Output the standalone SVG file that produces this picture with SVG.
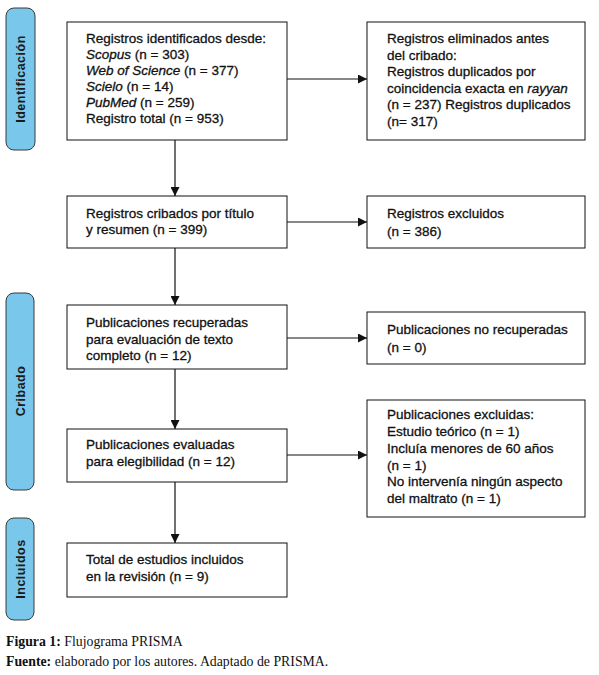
<svg xmlns="http://www.w3.org/2000/svg" width="599" height="675" viewBox="0 0 599 675">
<style>
.bg{fill:#fff}
.bar{fill:#79c7eb;stroke:#3a3a3a;stroke-width:1}
.bartxt{font-family:"Liberation Sans",Arial,sans-serif;font-weight:bold;font-size:12.5px;letter-spacing:0.5px;fill:#1a1a1a;text-anchor:middle}
.box{fill:#fff;stroke:#111;stroke-width:1}
.t{font-family:"Liberation Sans",Arial,sans-serif;font-size:13.5px;fill:#111;stroke:#111;stroke-width:0.3}
.conn{stroke:#111;stroke-width:1.2;fill:none}
.cap{font-family:"Liberation Serif","Times New Roman",serif;font-size:13.8px;fill:#111}
</style>
<defs>
<marker id="ah" viewBox="0 0 10 10" refX="10" refY="5" markerWidth="9" markerHeight="9" markerUnits="userSpaceOnUse" orient="auto">
<path d="M0,0 L10,5 L0,10 z" fill="#111"/>
</marker>
</defs>
<rect class="bg" x="0" y="0" width="599" height="675"/>

<g id="phase-identificacion">
<rect class="bar" x="6" y="8" width="29" height="142" rx="8"/>
<text class="bartxt" transform="translate(25,79) rotate(-90)">Identificación</text>
</g>
<g id="phase-cribado">
<rect class="bar" x="6" y="293" width="28" height="197" rx="8"/>
<text class="bartxt" transform="translate(25,391) rotate(-90)">Cribado</text>
</g>
<g id="phase-incluidos">
<rect class="bar" x="6" y="518" width="28" height="102" rx="8"/>
<text class="bartxt" transform="translate(25,569) rotate(-90)">Incluidos</text>
</g>

<g id="connectors">
<line class="conn" x1="287" y1="79" x2="367" y2="79" marker-end="url(#ah)"/>
<line class="conn" x1="175" y1="140" x2="175" y2="196" marker-end="url(#ah)"/>
<line class="conn" x1="287" y1="222" x2="367" y2="222" marker-end="url(#ah)"/>
<line class="conn" x1="175" y1="248" x2="175" y2="305" marker-end="url(#ah)"/>
<line class="conn" x1="287" y1="338" x2="367" y2="338" marker-end="url(#ah)"/>
<line class="conn" x1="175" y1="369" x2="175" y2="429" marker-end="url(#ah)"/>
<line class="conn" x1="287" y1="455" x2="367" y2="455" marker-end="url(#ah)"/>
<line class="conn" x1="175" y1="482" x2="175" y2="543" marker-end="url(#ah)"/>
</g>

<g id="n1">
<rect class="box" x="67" y="22" width="220" height="118"/>
<text class="t" x="86" y="43">Registros identificados desde:</text>
<text class="t" x="86" y="59"><tspan font-style="italic">Scopus</tspan> (n = 303)</text>
<text class="t" x="86" y="75"><tspan font-style="italic">Web of Science</tspan> (n = 377)</text>
<text class="t" x="86" y="91"><tspan font-style="italic">Scielo</tspan> (n = 14)</text>
<text class="t" x="86" y="107"><tspan font-style="italic">PubMed</tspan> (n = 259)</text>
<text class="t" x="86" y="123">Registro total (n = 953)</text>
</g>
<g id="n2">
<rect class="box" x="367" y="22" width="218" height="118"/>
<text class="t" x="387" y="43">Registros eliminados antes</text>
<text class="t" x="387" y="59.5">del cribado:</text>
<text class="t" x="387" y="76">Registros duplicados por</text>
<text class="t" x="387" y="92.5">coincidencia exacta en <tspan font-style="italic">rayyan</tspan></text>
<text class="t" x="387" y="109">(n = 237) Registros duplicados</text>
<text class="t" x="387" y="125.5">(n= 317)</text>
</g>
<g id="n3">
<rect class="box" x="67" y="196" width="220" height="52"/>
<text class="t" x="86" y="218">Registros cribados por título</text>
<text class="t" x="86" y="234">y resumen (n = 399)</text>
</g>
<g id="n4">
<rect class="box" x="367" y="196" width="218" height="52"/>
<text class="t" x="387" y="218">Registros excluidos</text>
<text class="t" x="387" y="236">(n = 386)</text>
</g>
<g id="n5">
<rect class="box" x="67" y="305" width="220" height="64"/>
<text class="t" x="86" y="327">Publicaciones recuperadas</text>
<text class="t" x="86" y="343.5">para evaluación de texto</text>
<text class="t" x="86" y="360">completo (n = 12)</text>
</g>
<g id="n6">
<rect class="box" x="367" y="312" width="218" height="52"/>
<text class="t" x="387" y="334">Publicaciones no recuperadas</text>
<text class="t" x="387" y="352">(n = 0)</text>
</g>
<g id="n7">
<rect class="box" x="67" y="429" width="220" height="53"/>
<text class="t" x="86" y="449">Publicaciones evaluadas</text>
<text class="t" x="86" y="466">para elegibilidad (n = 12)</text>
</g>
<g id="n8">
<rect class="box" x="367" y="400" width="218" height="117"/>
<text class="t" x="387" y="419">Publicaciones excluidas:</text>
<text class="t" x="387" y="436">Estudio teórico (n = 1)</text>
<text class="t" x="387" y="453">Incluía menores de 60 años</text>
<text class="t" x="387" y="469.5">(n = 1)</text>
<text class="t" x="387" y="486">No intervenía ningún aspecto</text>
<text class="t" x="387" y="502.5">del maltrato (n = 1)</text>
</g>
<g id="n9">
<rect class="box" x="67" y="543" width="220" height="54"/>
<text class="t" x="86" y="564">Total de estudios incluidos</text>
<text class="t" x="86" y="581">en la revisión (n = 9)</text>
</g>

<g id="caption">
<text class="cap" x="6" y="646"><tspan font-weight="bold">Figura 1:</tspan> Flujograma PRISMA</text>
<text class="cap" x="6" y="666"><tspan font-weight="bold">Fuente:</tspan> elaborado por los autores. Adaptado de PRISMA.</text>
</g>
</svg>
